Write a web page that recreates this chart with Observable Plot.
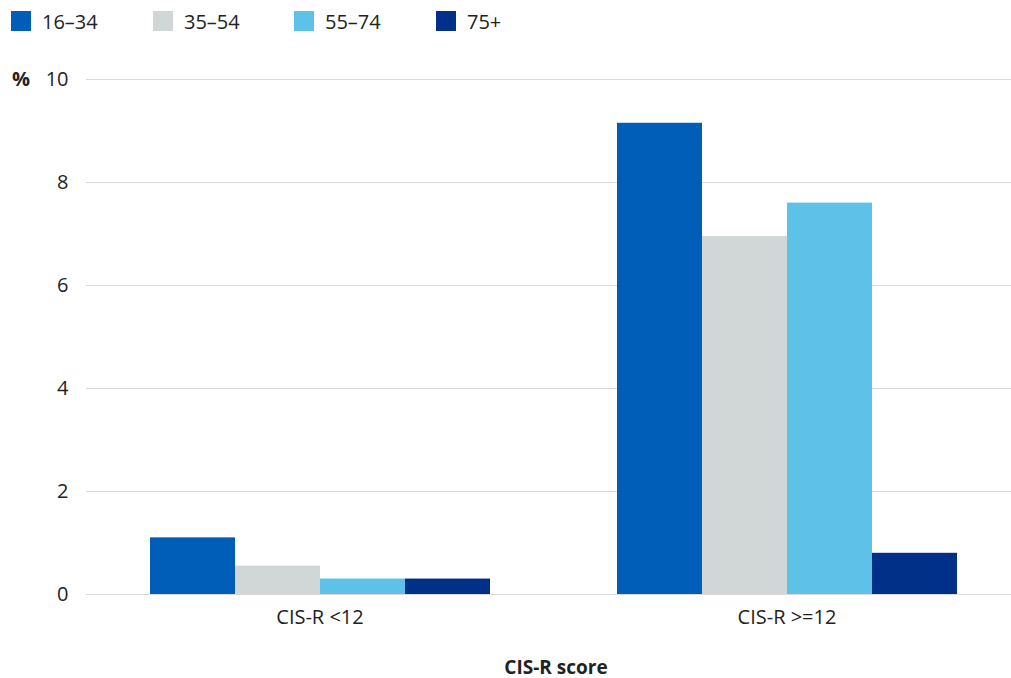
<!DOCTYPE html>
<html>
<head>
<meta charset="utf-8">
<script src="https://cdn.jsdelivr.net/npm/d3@7"></script>
<script src="https://cdn.jsdelivr.net/npm/@observablehq/plot@0.6"></script>
<style>
  body { margin: 0; background: #fff; font-family: "Open Sans", "Noto Sans", sans-serif; color: #222; }
  #wrap { position: relative; width: 1011px; height: 678px; }
  #legend { position: relative; height: 40px; }
  .item { position: absolute; top: 11px; display: flex; align-items: center; font-size: 20px; height: 20px; }
  .sw { width: 20px; height: 20px; margin-right: 11px; flex: none; }
  #ylab { position: absolute; left: 12px; top: 65px; font-weight: bold; font-size: 20px; }
  #xlab { position: absolute; top: 654px; left: 0; width: 1112px; text-align: center; font-weight: bold; font-size: 19px; }
</style>
</head>
<body>
<div id="wrap">
  <div id="legend"></div>
  <div id="chart"></div>
  <div id="ylab">%</div>
  <div id="xlab">CIS-R score</div>
</div>
<script>
const categories = ["CIS-R <12", "CIS-R >=12"];
const ageGroups = ["16–34", "35–54", "55–74", "75+"];
const values16_34 = [1.1, 9.15];
const values35_54 = [0.55, 6.95];
const values55_74 = [0.3, 7.6];
const values75plus = [0.3, 0.8];
const yTicks = [0, 2, 4, 6, 8, 10];
const colors = ["#005EB8", "#D1D7D7", "#5DC1E8", "#003087"];

const series = [values16_34, values35_54, values55_74, values75plus];
const data = [];
categories.forEach((c, i) => {
  ageGroups.forEach((a, j) => data.push({score: c, age: a, value: series[j][i]}));
});

// legend
const legend = document.getElementById("legend");
const legendLeft = [11, 153, 294, 436];
ageGroups.forEach((a, j) => {
  const it = document.createElement("div");
  it.className = "item";
  it.style.left = legendLeft[j] + "px";
  it.innerHTML = `<span class="sw" style="background:${colors[j]}"></span><span>${a}</span>`;
  legend.appendChild(it);
});

const chart = Plot.plot({
  width: 1011,
  height: 600,
  marginTop: 39,
  marginBottom: 46,
  marginLeft: 85,
  marginRight: 0,
  style: { fontFamily: "'Open Sans', 'Noto Sans', sans-serif", fontSize: "20px", color: "#222", background: "white" },
  fx: { domain: categories, range: [85, 1020], padding: 0, label: null, tickSize: 0, tickPadding: 15 },
  x: { domain: ageGroups, paddingInner: 0, paddingOuter: 0.72, axis: null },
  y: { domain: [0, 10], ticks: yTicks, tickSize: 0, tickPadding: 18, label: null },
  color: { domain: ageGroups, range: colors },
  marks: [
    Plot.ruleY(yTicks, { stroke: "#d9d9d9", strokeWidth: 1 }),
    Plot.barY(data, { fx: "score", x: "age", y: "value", fill: "age", inset: 0 })
  ]
});
document.getElementById("chart").appendChild(chart);
</script>
</body>
</html>
